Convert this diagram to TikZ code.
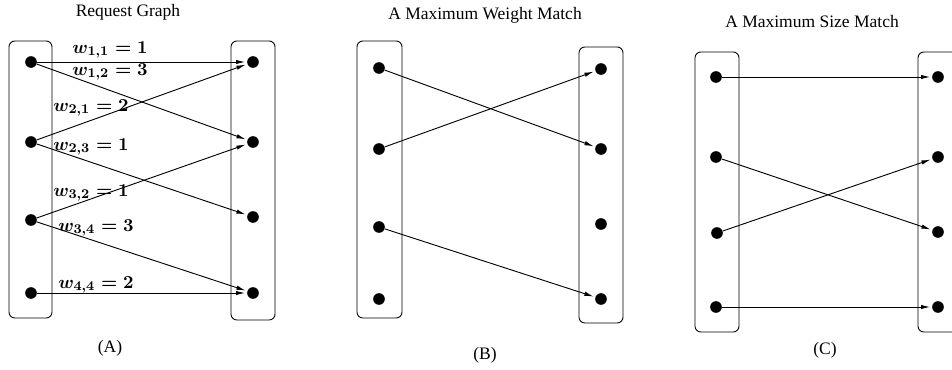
\documentclass[tikz,border=0pt]{standalone}
\usepackage{fontspec}
\setmainfont{Liberation Serif}
\usetikzlibrary{arrows.meta}

\begin{document}
\begin{tikzpicture}[x=0.6pt,y=-0.6pt,
  dot/.style={circle,fill,inner sep=0pt,minimum size=7pt},
  arr/.style={-{Latex[length=5.5pt,width=2.6pt]},line width=0.55pt,shorten >=1pt},
  side/.style={rounded corners=3.5pt,line width=0.55pt},
  wt/.style={anchor=west,inner sep=0pt,font=\fontsize{11}{13}\selectfont\boldmath},
  every node/.style={font=\fontsize{10.5}{12}\selectfont}]
  \path[use as bounding box] (0,0) rectangle (952,370);

  % (A) request graph
  \draw[side] (9,41) rectangle (52,318);
  \draw[side] (231,41) rectangle (275,320);
  \node (ta) at (128,12) {Request Graph};
  \node (ca) at (110,348) {(A)};
  \node[dot] (a1) at (31,62) {};
  \node[dot] (a2) at (31,142) {};
  \node[dot] (a3) at (31,220) {};
  \node[dot] (a4) at (31,293) {};
  \node[dot] (b1) at (253,62) {};
  \node[dot] (b2) at (253,142) {};
  \node[dot] (b3) at (253,217) {};
  \node[dot] (b4) at (253,293) {};
  \draw[arr] (a1) -- (b1);
  \draw[arr] (a1) -- (b2);
  \draw[arr] (a2) -- (b1);
  \draw[arr] (a2) -- (b3);
  \draw[arr] (a3) -- (b2);
  \draw[arr] (a3) -- (b4);
  \draw[arr] (a4) -- (b4);
  \node[wt] (w11) at (72,50) {$w_{1,1} = 1$};
  \node[wt] (w12) at (72,72) {$w_{1,2} = 3$};
  \node[wt] (w21) at (53,108) {$w_{2,1} = 2$};
  \node[wt] (w23) at (53,147) {$w_{2,3} = 1$};
  \node[wt] (w32) at (53,193) {$w_{3,2} = 1$};
  \node[wt] (w34) at (58,228) {$w_{3,4} = 3$};
  \node[wt] (w44) at (58,285) {$w_{4,4} = 2$};

  % (B) maximum weight match
  \draw[side] (357,41) rectangle (402,318);
  \draw[side] (579,47) rectangle (623,323);
  \node (tb) at (485,15) {A Maximum Weight Match};
  \node (cb) at (485,355) {(B)};
  \node[dot] (c1) at (379,68) {};
  \node[dot] (c2) at (379,149) {};
  \node[dot] (c3) at (379,227) {};
  \node[dot] (c4) at (379,299) {};
  \node[dot] (d1) at (601,69) {};
  \node[dot] (d2) at (601,149) {};
  \node[dot] (d3) at (601,224) {};
  \node[dot] (d4) at (601,299) {};
  \draw[arr] (c1) -- (d2);
  \draw[arr] (c2) -- (d1);
  \draw[arr] (c3) -- (d4);

  % (C) maximum size match
  \draw[side] (695,52) rectangle (739,332);
  \draw[side] (918,52) rectangle (962,332);
  \node (tc) at (812,22) {A Maximum Size Match};
  \node (cc) at (825,350) {(C)};
  \node[dot] (e1) at (716,77) {};
  \node[dot] (e2) at (716,157) {};
  \node[dot] (e3) at (717,233) {};
  \node[dot] (e4) at (716,307) {};
  \node[dot] (f1) at (938,77) {};
  \node[dot] (f2) at (938,157) {};
  \node[dot] (f3) at (938,232) {};
  \node[dot] (f4) at (938,307) {};
  \draw[arr] (e1) -- (f1);
  \draw[arr] (e2) -- (f3);
  \draw[arr] (e3) -- (f2);
  \draw[arr] (e4) -- (f4);
\end{tikzpicture}
\end{document}
